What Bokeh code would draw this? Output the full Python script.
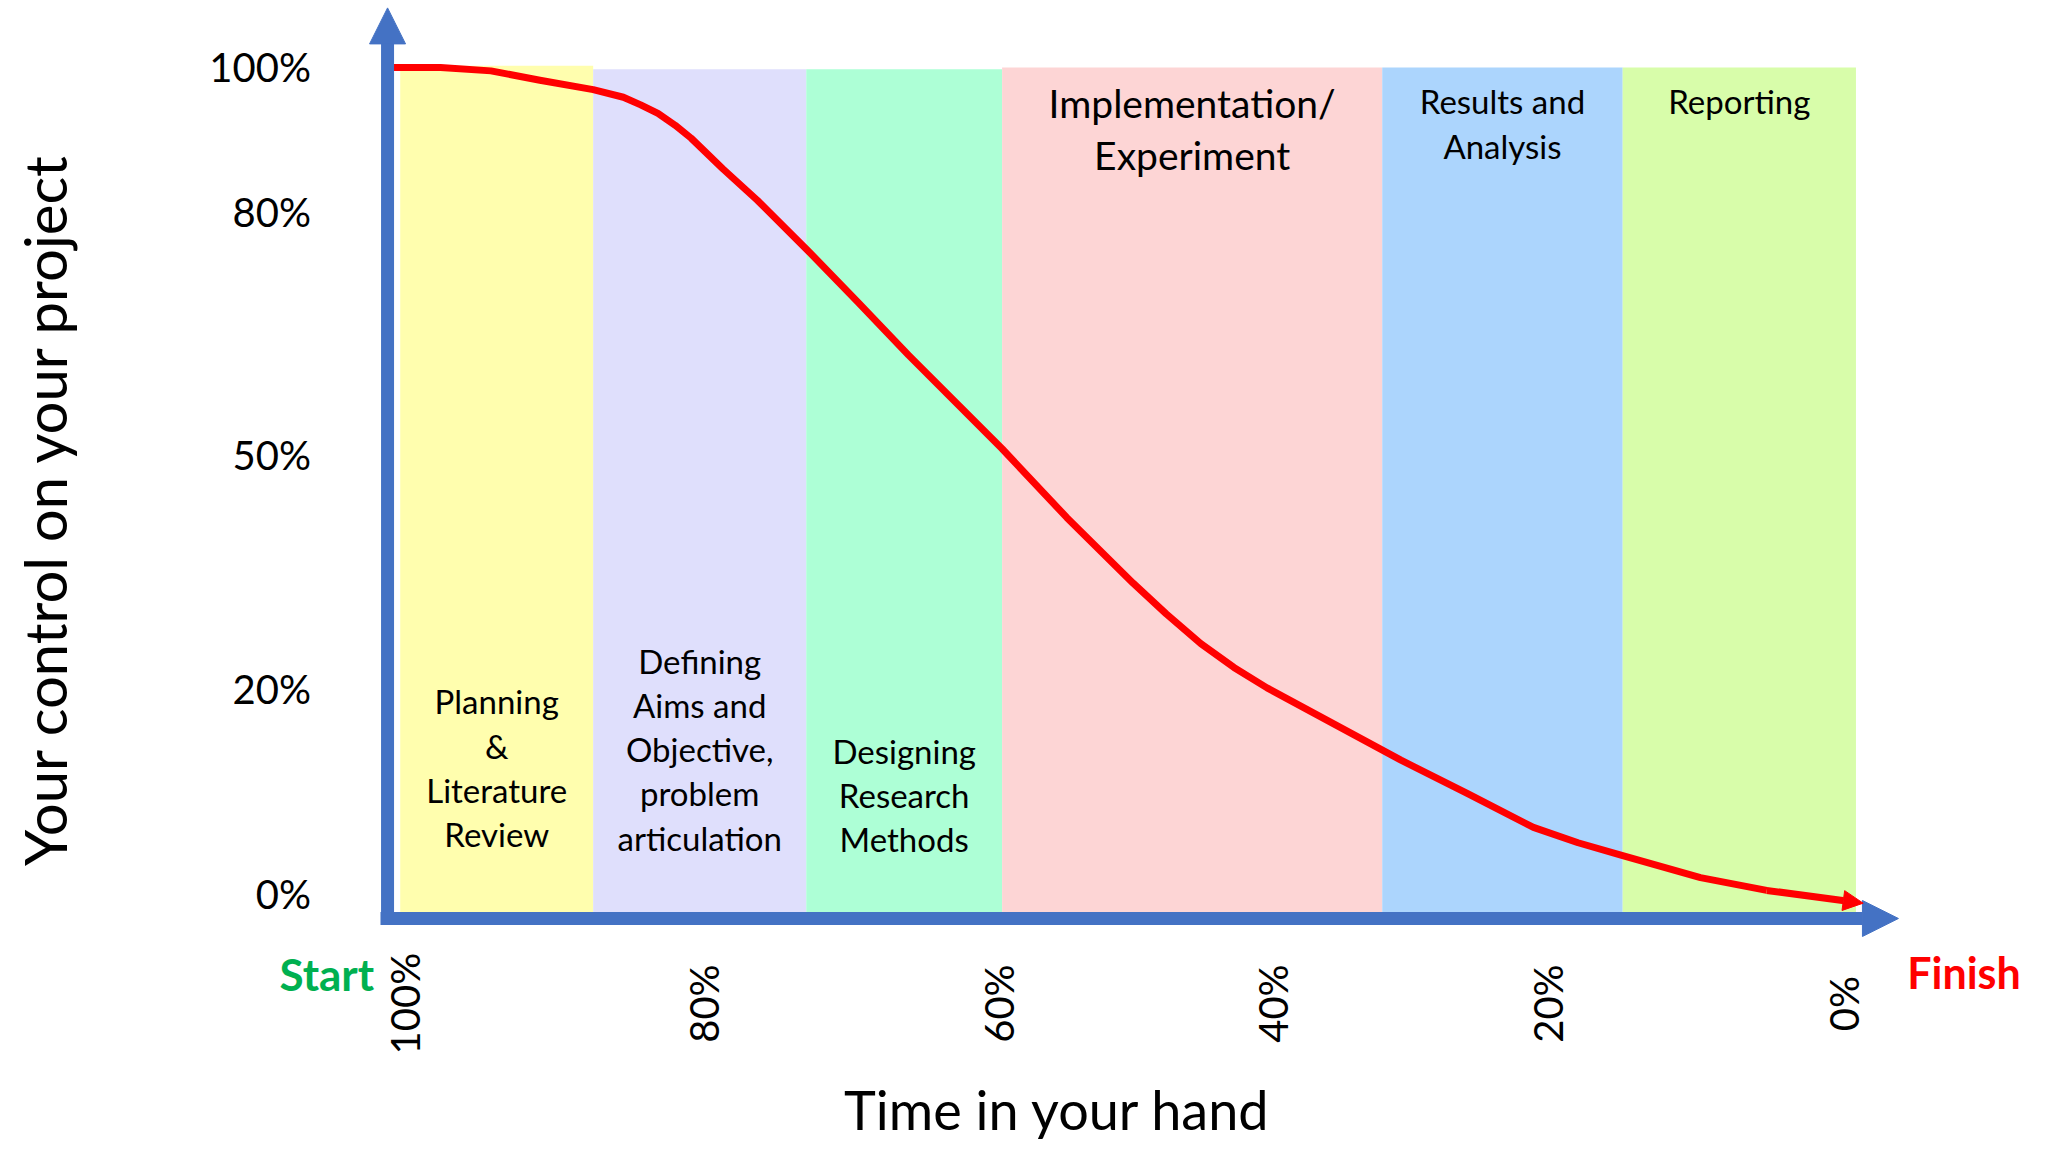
import math
from bokeh.plotting import figure
from bokeh.models import Range1d, Arrow, NormalHead, ColumnDataSource
from bokeh.core.properties import value
from bokeh.embed import file_html
from bokeh.resources import INLINE

# ---------------- data ----------------
# x = time left in your hand (%), y = control on your project (%)
phase_names = ["Planning & Literature Review", "Defining Aims and Objective, problem articulation",
               "Designing Research Methods", "Implementation/ Experiment",
               "Results and Analysis", "Reporting"]
phase_lines = [["Planning", "&", "Literature", "Review"],
               ["Defining", "Aims and", "Objective,", "problem", "articulation"],
               ["Designing", "Research", "Methods"],
               ["Implementation/", "Experiment"],
               ["Results and", "Analysis"],
               ["Reporting"]]
phase_start = [100.3, 86.9, 72.1, 58.5, 32.1, 15.4]
phase_end = [86.9, 72.1, 58.5, 32.1, 15.4, -0.8]
phase_top = [100.2, 99.8, 99.8, 100.0, 100.0, 100.0]
phase_colors = ["#FFFEAE", "#DFDFFC", "#ADFFD6", "#FDD5D5", "#ACD5FD", "#D8FDAA"]

curve_time = [100.8, 97.5, 94.0, 90.6, 86.9, 84.8, 83.6, 82.4, 81.2, 80.1, 77.9, 75.5, 72.0,
              68.5, 65.0, 58.5, 54.0, 49.4, 47.1, 44.7, 42.4, 40.1, 35.5, 30.8, 26.2, 21.6,
              18.5, 15.4, 10.0, 5.4, -1.3]
curve_control = [100.0, 100.0, 99.6, 98.5, 97.4, 96.5, 95.6, 94.6, 93.2, 91.7, 88.1, 84.4, 78.5,
                 72.4, 66.2, 55.2, 47.1, 39.4, 35.8, 32.3, 29.5, 27.1, 22.9, 18.6, 14.7, 10.7,
                 8.9, 7.4, 4.8, 3.3, 1.8]

y_tick_labels = ["100%", "80%", "50%", "20%", "0%"]
y_tick_pos = [100.0, 83.0, 54.5, 27.0, 2.9]
x_tick_labels = ["100%", "80%", "60%", "40%", "20%", "0%"]
x_tick_pos = [100.0, 79.2, 58.7, 39.7, 20.6, 0.0]

# ---------------- layout / style ----------------
FONT = value("Lato")
AXIS_BLUE = "#4472C4"
first_line_y = [25.5, 30.3, 19.7, 95.8, 96.1, 96.1]
line_step = [5.2, 5.2, 5.2, 6.1, 5.3, 5.3]
label_size = ["33px", "33px", "33px", "39px", "33px", "33px"]

p = figure(width=2032, height=1151,
           x_range=Range1d(128.06, -13.06), y_range=Range1d(-27.38, 107.87),
           output_backend="svg", toolbar_location=None, min_border=0,
           x_axis_location=None, y_axis_location=None)
p.outline_line_color = None
p.grid.visible = False
p.background_fill_color = "white"
p.border_fill_color = "white"

# phase bands
p.quad(left=phase_start, right=phase_end, top=phase_top, bottom=[0] * len(phase_start),
       fill_color=phase_colors, line_color=None)

# phase labels
lx, ly, lt, ls = [], [], [], []
for i, lines in enumerate(phase_lines):
    cx = (phase_start[i] + phase_end[i]) / 2
    for j, t in enumerate(lines):
        lx.append(cx)
        ly.append(first_line_y[i] - j * line_step[i])
        lt.append(t)
        ls.append(label_size[i])
p.text(x="x", y="y", text="t", text_font_size="s",
       source=ColumnDataSource(dict(x=lx, y=ly, t=lt, s=ls)),
       text_font=FONT, text_align="center", text_baseline="middle", text_color="black")

# axes as blue arrows
p.add_layout(Arrow(x_start=101.18, y_start=-0.7, x_end=101.18, y_end=107.0,
                   line_color=AXIS_BLUE, line_width=13,
                   end=NormalHead(size=36, fill_color=AXIS_BLUE, line_color=AXIS_BLUE, line_width=1)))
p.add_layout(Arrow(x_start=101.67, y_start=0, x_end=-3.75, y_end=0,
                   line_color=AXIS_BLUE, line_width=13,
                   end=NormalHead(size=36, fill_color=AXIS_BLUE, line_color=AXIS_BLUE, line_width=1)))

# control curve
p.line(curve_time[:-1], curve_control[:-1], line_color="#FF0000", line_width=7, line_join="round")
p.add_layout(Arrow(x_start=curve_time[-2], y_start=curve_control[-2],
                   x_end=curve_time[-1], y_end=curve_control[-1],
                   line_color="#FF0000", line_width=7,
                   end=NormalHead(size=20, fill_color="#FF0000", line_color="#FF0000", line_width=1)))

# tick labels
p.text(x=[106.5] * len(y_tick_pos), y=y_tick_pos, text=y_tick_labels, text_font=FONT,
       text_font_size="40px", text_align="right", text_baseline="middle", text_color="black")
p.text(x=x_tick_pos, y=[-10.0] * len(x_tick_pos), text=x_tick_labels, angle=math.pi / 2,
       text_font=FONT, text_font_size="40px", text_align="center", text_baseline="middle",
       text_color="black")

# start / finish
p.text(x=[105.4], y=[-6.5], text=["Start"], text_font=FONT, text_font_size="44px",
       text_font_style="bold", text_color="#00B050", text_align="center", text_baseline="middle")
p.text(x=[-8.3], y=[-6.4], text=["Finish"], text_font=FONT, text_font_size="43px",
       text_font_style="bold", text_color="#FF0000", text_align="center", text_baseline="middle")

# axis titles
p.text(x=[54.65], y=[-22.5], text=["Time in your hand"], text_font=FONT, text_font_size="54px",
       text_color="black", text_align="center", text_baseline="middle")
p.text(x=[125.0], y=[48.1], text=["Your control on your project"], angle=math.pi / 2,
       text_font=FONT, text_font_size="58px", text_color="black",
       text_align="center", text_baseline="middle")

open("out.html", "w").write(file_html(p, INLINE))
